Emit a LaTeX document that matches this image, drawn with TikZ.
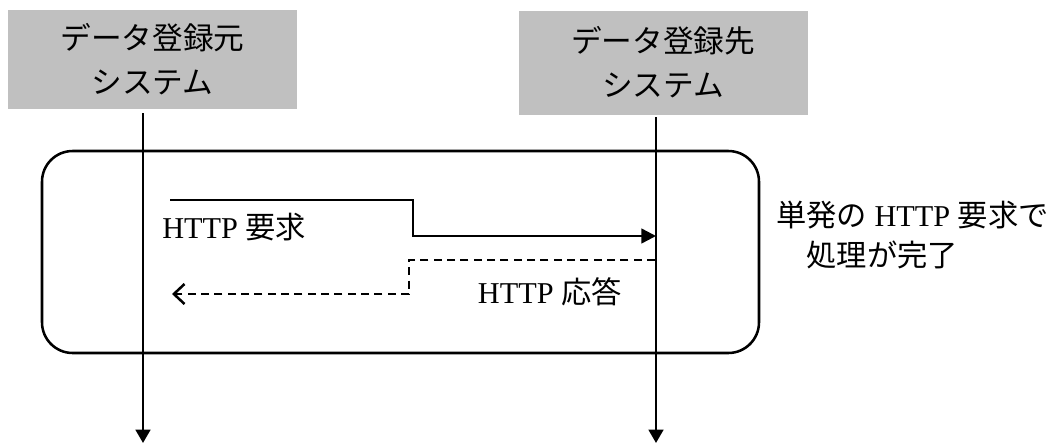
\documentclass[tikz,border=0pt]{standalone}
\usepackage{fontspec}
\setmainfont{Liberation Serif}
\newfontfamily\jp{Noto Sans CJK JP}
\usetikzlibrary{arrows.meta}
\definecolor{boxgray}{HTML}{C0C0C0}
\tikzset{
  sysbox/.style={fill=boxgray, draw=none, inner sep=0pt, align=center,
    minimum width=216.75pt, font=\jp\fontsize{23}{33}\selectfont},
  life/.style={line width=1.9pt, -{Triangle[length=10pt,width=11pt]}},
  req/.style={line width=1.9pt, -{Triangle[length=11pt,width=11pt]}},
  resp/.style={line width=1.9pt, dash pattern=on 6pt off 4pt,
    -{Straight Barb[length=8pt,width=15pt,line width=1.9pt]}},
  frame/.style={draw, line width=1.9pt, rounded corners=23pt, inner sep=0pt},
  lbl/.style={inner sep=0pt, font=\fontsize{22.7}{30}\selectfont},
}
\begin{document}
\begin{tikzpicture}[x=0.75pt,y=-0.75pt]
\useasboundingbox (0,0) rectangle (1054,444);
% system boxes
\node[sysbox, minimum height=74.25pt] (src) at (152.5,59.5) {データ登録元\\システム};
\node[sysbox, minimum height=78pt] (dst) at (663,62.5) {データ登録先\\システム};
% frame
\node[frame, minimum width=537.75pt, minimum height=151.5pt] (frm) at (400.5,252) {};
% lifelines
\coordinate (Ltop) at (143,113);
\coordinate (Lbot) at (143,443);
\coordinate (Rtop) at (656,117);
\coordinate (Rbot) at (656,443);
\draw[life] (Ltop) -- (Lbot);
\draw[life] (Rtop) -- (Rbot);
% request
\coordinate (q0) at (170,200);
\coordinate (q1) at (413,200);
\coordinate (q2) at (413,236);
\coordinate (q3) at (656,236);
\draw[req] (q0) -- (q1) -- (q2) -- (q3);
% response
\coordinate (r0) at (655,260);
\coordinate (r1) at (409,260);
\coordinate (r2) at (409,294);
\coordinate (r3) at (172,294);
\draw[resp] (r0) -- (r1) -- (r2) -- (r3);
% labels
\node[lbl, anchor=west] (reqlbl) at (162,227) {HTTP {\jp 要求}};
\node[lbl, anchor=east] (resplbl) at (622,292) {HTTP {\jp 応答}};
\node[lbl, anchor=west, align=left] (note) at (776,235) {{\jp 単発の} HTTP {\jp 要求で}\\{\jp 　処理が完了}};
\end{tikzpicture}
\end{document}
